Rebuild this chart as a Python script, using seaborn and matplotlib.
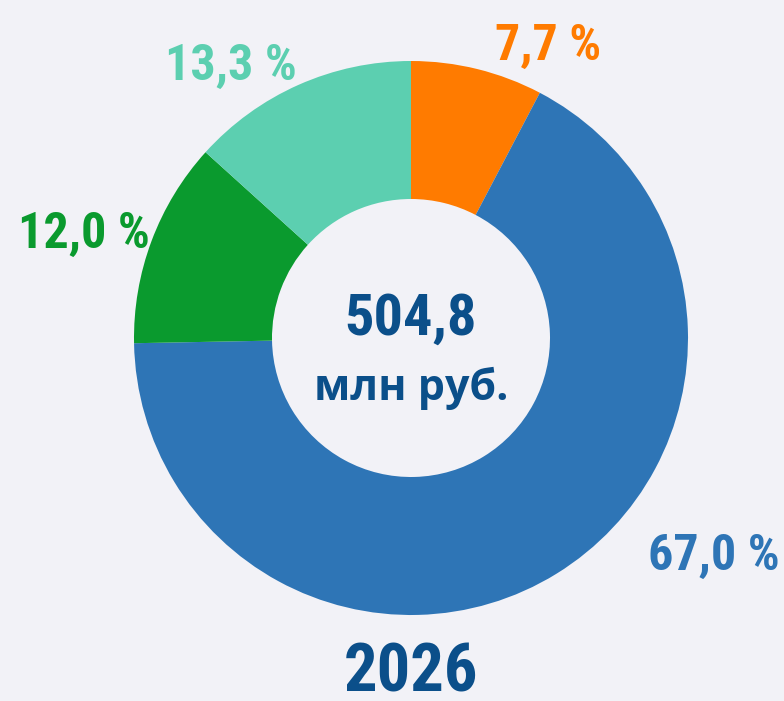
import matplotlib
matplotlib.use("Agg")
import matplotlib.pyplot as plt
from matplotlib import font_manager
import seaborn as sns

# ---- data ----
categories = ["Категория 1", "Категория 2", "Категория 3", "Категория 4"]
shares = [7.7, 67.0, 12.0, 13.3]
share_labels = ["7,7 %", "67,0 %", "12,0 %", "13,3 %"]
slice_colors = ["#FF7B00", "#2E75B6", "#0A9A2E", "#5CCFB0"]
total_value = "504,8"
total_unit = "млн руб."
year_label = "2026"

sns.set_theme(style="white")

# choose a condensed font if available
names = {f.name for f in font_manager.fontManager.ttflist}
cond_family = "DejaVu Sans"
cond_stretch = "condensed"
for cand in ["Roboto Condensed", "Liberation Sans Narrow", "Open Sans Condensed", "Noto Sans Condensed"]:
    if cand in names:
        cond_family = cand
        cond_stretch = "normal"
        break

bg = "#F2F2F7"
dark = "#0B4F8A"

fig = plt.figure(figsize=(7.84, 7.01), dpi=100, facecolor=bg)
ax = fig.add_axes([0, 0, 1, 1])
ax.set_facecolor(bg)

cx, cy = 411, 701 - 338
R = 277
ax.pie(shares, colors=sns.color_palette(slice_colors), startangle=90, counterclock=False,
       center=(cx, cy), radius=R, wedgeprops=dict(width=138, linewidth=0),
       frame=True)
ax.set_xlim(0, 784)
ax.set_ylim(0, 701)
ax.set_aspect("equal")
ax.axis("off")

# label anchor: (center x, baseline y from top)
label_pos = [(548, 60), (714, 570), (84, 248), (231, 80)]
for lab, col, (x, y) in zip(share_labels, slice_colors, label_pos):
    ax.text(x, 701 - y, lab, color=col, fontsize=36, fontweight="bold",
            family=cond_family, fontstretch=cond_stretch, ha="center", va="baseline")

ax.text(cx, 701 - 335, total_value, color=dark, fontsize=42, fontweight="bold",
        family=cond_family, fontstretch=cond_stretch, ha="center", va="baseline")
ax.text(cx, 701 - 400, total_unit, color=dark, fontsize=31, fontweight="bold",
        family=["Open Sans", "DejaVu Sans"], ha="center", va="baseline")
ax.text(cx, 701 - 692, year_label, color=dark, fontsize=48, fontweight="bold",
        family=cond_family, fontstretch=cond_stretch, ha="center", va="baseline")

fig.savefig("out.png", dpi=100, facecolor=bg)
